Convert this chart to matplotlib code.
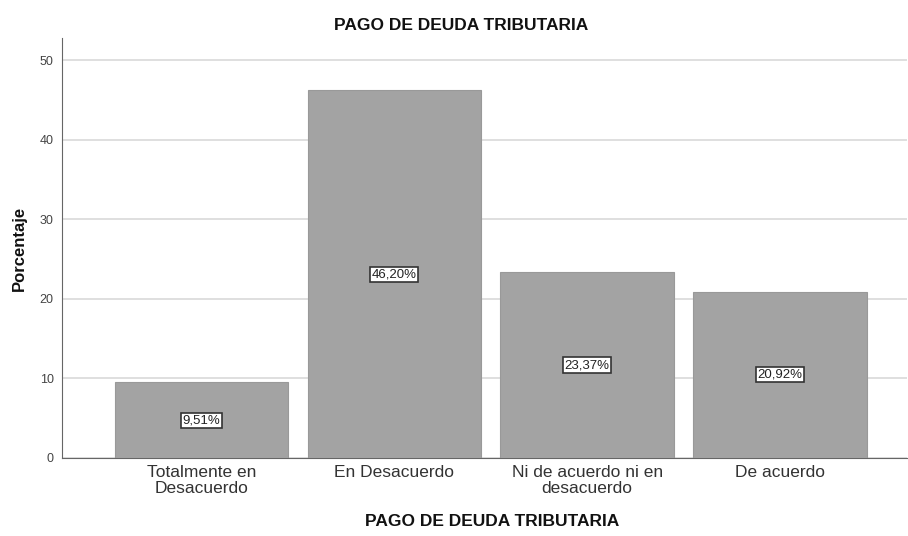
import matplotlib
matplotlib.use("Agg")
import matplotlib.pyplot as plt

categories = ["Totalmente en\nDesacuerdo", "En Desacuerdo", "Ni de acuerdo ni en\ndesacuerdo", "De acuerdo"]
values = [9.51, 46.20, 23.37, 20.92]
labels = ["9,51%", "46,20%", "23,37%", "20,92%"]
yticks = [0, 10, 20, 30, 40, 50]

plt.rcParams['font.family'] = ['Liberation Sans', 'DejaVu Sans']

fig = plt.figure(figsize=(9.08, 5.36), dpi=100)
ax = fig.add_axes([62/908, 78/536, (907-62)/908, (458-38)/536])

x = list(range(len(categories)))
ax.bar(x, values, width=0.9, color="#a3a3a3", edgecolor="#999999", linewidth=0.8, zorder=3)
for xi, v, lab in zip(x, values, labels):
    ax.text(xi, v / 2, lab, ha="center", va="center", fontsize=9.5, color="#222222", zorder=4,
            bbox=dict(boxstyle="square,pad=0.12", facecolor="white", edgecolor="#333333", linewidth=1.2))

ax.set_xlim(-0.725, 3.66)
ax.set_ylim(0, 52.8)
ax.set_yticks(yticks)
ax.set_yticklabels([str(t) for t in yticks], fontsize=9, color="#444444")
ax.set_xticks(x)
ax.set_xticklabels(categories, fontsize=12.5, color="#333333", linespacing=1.12)
ax.tick_params(axis="x", length=0, pad=5)
ax.tick_params(axis="y", length=0, pad=6)
ax.yaxis.grid(True, color="#d9d9d9", linewidth=1.2, zorder=0)
for s in ["top", "right"]:
    ax.spines[s].set_visible(False)
ax.spines["left"].set_color("#666666")
ax.spines["bottom"].set_color("#666666")

ax.set_ylabel("Porcentaje", fontsize=12, fontweight="bold", color="#111111", labelpad=9)
ax.set_xlabel("PAGO DE DEUDA TRIBUTARIA", fontsize=12.5, fontweight="bold", color="#111111")
ax.xaxis.set_label_coords((492 - 62) / 845, (458 - 514) / 420)
fig.text(461/908, 1 - 26/536, "PAGO DE DEUDA TRIBUTARIA", ha="center", va="center", fontsize=12.5,
         fontweight="bold", color="#111111")

fig.savefig("out.png", dpi=100)
